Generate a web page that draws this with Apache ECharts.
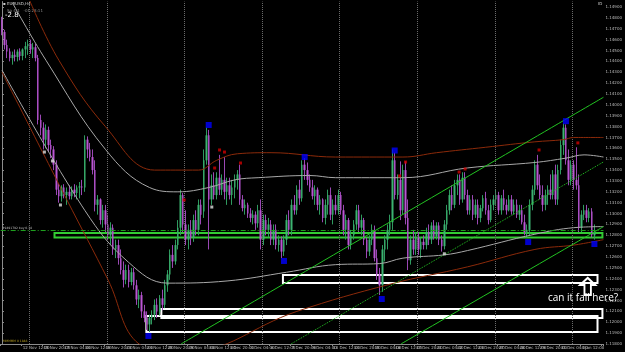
<!DOCTYPE html>
<html><head><meta charset="utf-8">
<script src="https://cdn.jsdelivr.net/npm/echarts@6/dist/echarts.min.js"></script>
<style>html,body{margin:0;padding:0;background:#000}#c{width:625px;height:352px}</style>
</head><body><div id="c"></div>
<script>
// ---- time axis (H4 bars) ----
const days = ['11 Nov','12 Nov','15 Nov','16 Nov','17 Nov','18 Nov','19 Nov','22 Nov','23 Nov','24 Nov','25 Nov','26 Nov','29 Nov','30 Nov','1 Dec','2 Dec','3 Dec','6 Dec','7 Dec','8 Dec','9 Dec','10 Dec','13 Dec','14 Dec','15 Dec','16 Dec','17 Dec','20 Dec','21 Dec','22 Dec','23 Dec','24 Dec','27 Dec','28 Dec','29 Dec','30 Dec','31 Dec','3 Jan','4 Jan'];
const hours = ['00:00','04:00','08:00','12:00','16:00','20:00'];
const firstLabel = '11 Nov 2021';
const barCount = 230, shiftBars = 3;

// ---- EURUSD H4 candles: [open, close, low, high] ----
const ohlc = [
[1.1478,1.1467,1.1464,1.1481],[1.1467,1.1455,1.1451,1.1469],[1.1455,1.1449,1.1443,1.1460],[1.1449,1.1443,1.1440,1.1452],[1.1443,1.1446,1.1437,1.1449],
[1.1446,1.1444,1.1440,1.1451],[1.1444,1.1449,1.1440,1.1451],[1.1449,1.1445,1.1441,1.1452],[1.1445,1.1451,1.1441,1.1452],[1.1451,1.1454,1.1443,1.1458],
[1.1454,1.1456,1.1446,1.1460],[1.1456,1.1451,1.1447,1.1460],[1.1451,1.1453,1.1443,1.1457],[1.1453,1.1443,1.1440,1.1456],[1.1443,1.1386,1.1382,1.1446],
[1.1386,1.1379,1.1372,1.1391],[1.1379,1.1368,1.1359,1.1384],[1.1368,1.1377,1.1360,1.1382],[1.1377,1.1363,1.1357,1.1380],[1.1363,1.1359,1.1351,1.1368],
[1.1359,1.1345,1.1340,1.1362],[1.1345,1.1322,1.1317,1.1349],[1.1322,1.1316,1.1310,1.1328],[1.1316,1.1324,1.1311,1.1326],[1.1324,1.1317,1.1314,1.1327],
[1.1317,1.1320,1.1308,1.1324],[1.1320,1.1316,1.1313,1.1326],[1.1316,1.1322,1.1313,1.1325],[1.1322,1.1319,1.1315,1.1327],[1.1319,1.1324,1.1313,1.1326],
[1.1324,1.1325,1.1314,1.1329],[1.1325,1.1324,1.1317,1.1331],[1.1324,1.1368,1.1320,1.1372],[1.1368,1.1359,1.1351,1.1371],[1.1359,1.1352,1.1348,1.1365],
[1.1352,1.1340,1.1336,1.1359],[1.1340,1.1308,1.1302,1.1349],[1.1308,1.1313,1.1299,1.1317],[1.1313,1.1294,1.1290,1.1314],[1.1294,1.1303,1.1287,1.1308],
[1.1303,1.1290,1.1283,1.1308],[1.1290,1.1280,1.1276,1.1299],[1.1280,1.1287,1.1271,1.1292],[1.1287,1.1267,1.1262,1.1290],[1.1267,1.1271,1.1259,1.1276],
[1.1271,1.1259,1.1253,1.1276],[1.1259,1.1248,1.1244,1.1267],[1.1248,1.1239,1.1232,1.1256],[1.1239,1.1248,1.1235,1.1253],[1.1248,1.1237,1.1232,1.1253],
[1.1237,1.1246,1.1234,1.1250],[1.1246,1.1234,1.1230,1.1250],[1.1234,1.1221,1.1216,1.1239],[1.1221,1.1225,1.1213,1.1230],[1.1225,1.1210,1.1204,1.1228],
[1.1210,1.1204,1.1200,1.1216],[1.1204,1.1198,1.1193,1.1210],[1.1198,1.1204,1.1191,1.1207],[1.1204,1.1207,1.1198,1.1211],[1.1207,1.1216,1.1202,1.1221],
[1.1216,1.1210,1.1204,1.1222],[1.1210,1.1222,1.1206,1.1225],[1.1222,1.1216,1.1211,1.1230],[1.1216,1.1234,1.1213,1.1239],[1.1234,1.1244,1.1228,1.1248],
[1.1244,1.1262,1.1239,1.1267],[1.1262,1.1256,1.1250,1.1271],[1.1256,1.1271,1.1253,1.1276],[1.1271,1.1287,1.1267,1.1294],[1.1287,1.1317,1.1280,1.1322],
[1.1317,1.1290,1.1283,1.1319],[1.1290,1.1276,1.1271,1.1303],[1.1276,1.1285,1.1267,1.1290],[1.1285,1.1278,1.1271,1.1294],[1.1278,1.1294,1.1274,1.1299],
[1.1294,1.1285,1.1280,1.1303],[1.1285,1.1308,1.1280,1.1313],[1.1308,1.1299,1.1290,1.1313],[1.1302,1.1349,1.1296,1.1359],[1.1349,1.1372,1.1345,1.1379],
[1.1372,1.1313,1.1267,1.1377],[1.1313,1.1326,1.1308,1.1336],[1.1326,1.1317,1.1313,1.1338],[1.1317,1.1333,1.1313,1.1338],[1.1333,1.1322,1.1317,1.1354],
[1.1322,1.1331,1.1317,1.1336],[1.1331,1.1320,1.1313,1.1352],[1.1320,1.1326,1.1308,1.1333],[1.1326,1.1317,1.1313,1.1333],[1.1317,1.1324,1.1308,1.1331],
[1.1324,1.1331,1.1314,1.1336],[1.1331,1.1336,1.1322,1.1340],[1.1336,1.1313,1.1308,1.1345],[1.1313,1.1305,1.1302,1.1317],[1.1305,1.1308,1.1299,1.1313],
[1.1308,1.1300,1.1296,1.1310],[1.1300,1.1296,1.1292,1.1305],[1.1296,1.1299,1.1290,1.1303],[1.1299,1.1291,1.1285,1.1302],[1.1291,1.1303,1.1287,1.1308],
[1.1303,1.1276,1.1267,1.1313],[1.1276,1.1294,1.1271,1.1299],[1.1294,1.1285,1.1280,1.1299],[1.1285,1.1290,1.1278,1.1296],[1.1290,1.1276,1.1271,1.1294],
[1.1276,1.1285,1.1271,1.1290],[1.1285,1.1271,1.1267,1.1290],[1.1271,1.1276,1.1265,1.1280],[1.1276,1.1265,1.1259,1.1279],[1.1265,1.1276,1.1261,1.1280],
[1.1276,1.1294,1.1271,1.1299],[1.1294,1.1285,1.1280,1.1303],[1.1285,1.1308,1.1280,1.1313],[1.1308,1.1303,1.1299,1.1317],[1.1303,1.1322,1.1299,1.1326],
[1.1322,1.1314,1.1308,1.1331],[1.1314,1.1345,1.1311,1.1349],[1.1345,1.1340,1.1331,1.1351],[1.1340,1.1331,1.1326,1.1347],[1.1331,1.1324,1.1320,1.1336],
[1.1324,1.1316,1.1313,1.1331],[1.1316,1.1322,1.1308,1.1326],[1.1322,1.1308,1.1303,1.1324],[1.1308,1.1313,1.1299,1.1317],[1.1313,1.1296,1.1292,1.1314],
[1.1296,1.1308,1.1290,1.1313],[1.1308,1.1317,1.1299,1.1322],[1.1317,1.1299,1.1294,1.1324],[1.1299,1.1308,1.1290,1.1313],[1.1308,1.1303,1.1299,1.1317],
[1.1303,1.1317,1.1299,1.1322],[1.1317,1.1303,1.1299,1.1320],[1.1303,1.1285,1.1280,1.1308],[1.1285,1.1294,1.1276,1.1299],[1.1294,1.1271,1.1267,1.1296],
[1.1271,1.1280,1.1267,1.1285],[1.1280,1.1290,1.1276,1.1294],[1.1290,1.1303,1.1285,1.1308],[1.1303,1.1287,1.1283,1.1308],[1.1287,1.1294,1.1280,1.1299],
[1.1294,1.1276,1.1271,1.1296],[1.1276,1.1265,1.1259,1.1278],[1.1265,1.1276,1.1261,1.1280],[1.1276,1.1285,1.1271,1.1290],[1.1285,1.1259,1.1256,1.1289],
[1.1259,1.1244,1.1239,1.1267],[1.1244,1.1234,1.1225,1.1250],[1.1234,1.1267,1.1228,1.1271],[1.1267,1.1276,1.1256,1.1280],[1.1276,1.1285,1.1267,1.1290],
[1.1285,1.1292,1.1280,1.1299],[1.1292,1.1349,1.1285,1.1359],[1.1349,1.1317,1.1313,1.1356],[1.1317,1.1331,1.1313,1.1336],[1.1331,1.1303,1.1294,1.1348],
[1.1303,1.1340,1.1299,1.1345],[1.1340,1.1296,1.1290,1.1348],[1.1296,1.1257,1.1248,1.1313],[1.1257,1.1276,1.1253,1.1280],[1.1276,1.1267,1.1262,1.1285],
[1.1267,1.1278,1.1262,1.1283],[1.1278,1.1267,1.1262,1.1283],[1.1267,1.1274,1.1259,1.1278],[1.1274,1.1271,1.1267,1.1280],[1.1271,1.1283,1.1267,1.1287],
[1.1283,1.1276,1.1271,1.1290],[1.1276,1.1289,1.1272,1.1292],[1.1289,1.1279,1.1276,1.1294],[1.1279,1.1289,1.1276,1.1292],[1.1289,1.1276,1.1271,1.1292],
[1.1276,1.1270,1.1265,1.1280],[1.1270,1.1290,1.1267,1.1294],[1.1290,1.1303,1.1285,1.1308],[1.1303,1.1317,1.1299,1.1322],[1.1317,1.1308,1.1303,1.1326],
[1.1308,1.1326,1.1305,1.1331],[1.1326,1.1331,1.1317,1.1336],[1.1331,1.1313,1.1308,1.1336],[1.1313,1.1333,1.1310,1.1338],[1.1333,1.1317,1.1313,1.1338],
[1.1317,1.1303,1.1299,1.1322],[1.1303,1.1313,1.1299,1.1317],[1.1313,1.1299,1.1294,1.1317],[1.1299,1.1308,1.1296,1.1313],[1.1308,1.1296,1.1290,1.1313],
[1.1296,1.1305,1.1292,1.1308],[1.1305,1.1314,1.1302,1.1317],[1.1314,1.1303,1.1299,1.1320],[1.1303,1.1294,1.1290,1.1308],[1.1294,1.1308,1.1292,1.1313],
[1.1308,1.1313,1.1303,1.1317],[1.1313,1.1317,1.1308,1.1322],[1.1317,1.1303,1.1299,1.1320],[1.1303,1.1314,1.1299,1.1317],[1.1314,1.1308,1.1303,1.1322],
[1.1308,1.1303,1.1299,1.1313],[1.1303,1.1313,1.1302,1.1317],[1.1313,1.1302,1.1299,1.1317],[1.1302,1.1308,1.1299,1.1313],[1.1308,1.1299,1.1296,1.1313],
[1.1299,1.1303,1.1294,1.1308],[1.1303,1.1292,1.1290,1.1308],[1.1292,1.1283,1.1280,1.1299],[1.1283,1.1285,1.1278,1.1290],[1.1285,1.1308,1.1280,1.1313],
[1.1308,1.1322,1.1303,1.1326],[1.1322,1.1345,1.1317,1.1349],[1.1345,1.1326,1.1322,1.1354],[1.1326,1.1317,1.1313,1.1336],[1.1317,1.1308,1.1302,1.1326],
[1.1308,1.1317,1.1303,1.1322],[1.1317,1.1322,1.1308,1.1326],[1.1322,1.1317,1.1313,1.1336],[1.1317,1.1336,1.1313,1.1340],[1.1336,1.1313,1.1308,1.1345],
[1.1313,1.1340,1.1308,1.1345],[1.1340,1.1363,1.1336,1.1368],[1.1363,1.1379,1.1354,1.1383],[1.1379,1.1349,1.1345,1.1382],[1.1349,1.1331,1.1326,1.1359],
[1.1331,1.1345,1.1326,1.1349],[1.1345,1.1331,1.1322,1.1349],[1.1331,1.1326,1.1322,1.1361],[1.1326,1.1287,1.1283,1.1336],[1.1287,1.1299,1.1283,1.1303],
[1.1299,1.1303,1.1294,1.1308],[1.1303,1.1296,1.1292,1.1308],[1.1296,1.1302,1.1292,1.1305],[1.1302,1.1280,1.1278,1.1305],[1.1280,1.1282,1.1276,1.1290]
];
const lastPrice = 1.1282;

// ---- indicator curves: [bar index, price] ----
const grayUpper = [[4,1.1494],[17,1.1441],[40,1.1359],[57,1.1324],[68,1.1320],[80,1.1324],[90,1.1331],[99,1.1333],[119,1.1335],[129,1.1333],[155,1.1333],[180,1.1342],[206,1.1347],[218,1.1351],[225,1.1354],[232.5,1.1352]];
const grayLower = [[0,1.1432],[32,1.1303],[49,1.1255],[64,1.1236],[87,1.1238],[110,1.1246],[129,1.1253],[146,1.1254],[155,1.1259],[171,1.1262],[180,1.1266],[206,1.1281],[221,1.1287],[232.5,1.1288]];
const redUpper = [[10.7,1.1496],[22,1.1441],[40,1.1380],[59,1.1340],[76,1.1340],[83,1.1349],[91,1.1355],[104,1.1356],[129,1.1352],[155,1.1352],[168,1.1356],[187,1.1361],[206,1.1366],[217,1.1368],[221,1.1370],[232.5,1.1370]];
const redLower = [[0,1.1430],[25,1.1313],[41,1.1239],[53,1.1180],[70,1.1172],[114,1.1210],[150,1.1235],[180,1.1251],[206,1.1267],[221,1.1271],[232.5,1.1276]];
// ---- trend channel ----
const chanUpper = [[69.2,1.1180],[232.5,1.1407]];
const chanMid = [[111.7,1.1180],[232.5,1.13475]];
const chanLower = [[154.2,1.1180],[232.5,1.1288]];
// ---- zones / order ----
const greenZone = [20.3,232.1,1.12821,1.12780];
const whiteZones = [[108.6,230.2,1.12435,1.12361],[61.6,232.1,1.12122,1.12039],[55.8,230.2,1.12058,1.11910]];
const orderLine = [[-0.5,1.12844],[232.5,1.12844]];
const orderText = '#9491792 buy 0.38';
const weekBreaks = [10.5,40.5,70.5,100.5,130.5,160.5,190.5,220.5];
// ---- markers ----
const bluePts = [[79.9,1.13815],[117,1.1352],[151.8,1.1358],[218,1.1385],[56.6,1.11874],[109,1.12564],[146.8,1.12214],[203.4,1.12738],[229,1.1272]];
const redPts = [[70.4,1.13125],[82.2,1.13419],[84.1,1.13585],[86,1.13566],[92.2,1.13465],[153.7,1.13346],[156,1.13474],[176.7,1.13382],[179,1.1341],[207.6,1.13585],[222.6,1.1365]];
const whitePts = [[16.4,1.13566],[19.5,1.13484],[22.6,1.13079],[81.1,1.1306],[171,1.1263]];
const arrowAt = [226.4,1.1233];
const note = 'can it fall here?';

const cats = [];
for (let d = 0; d < days.length && cats.length < barCount; d++) {
  for (let h = (d === 0 ? 1 : 0); h < hours.length && cats.length < barCount; h++) {
    cats.push(cats.length === 0 ? firstLabel : days[d] + ' ' + hours[h]);
  }
}
for (let k = 0; k < shiftBars; k++) cats.push('');
const bodies = ohlc.map(r => [r[0], r[1], Math.min(r[0], r[1]), Math.max(r[0], r[1])]);

const chart = echarts.init(document.getElementById('c'));
const lineS = (data, color, type, z) => ({type:'line', xAxisIndex:1, data, smooth:0.4, showSymbol:false, silent:true, clip:true,
  lineStyle:{color, width:1, type:type||'solid'}, z:z||5});
const green = '#22c322';
chart.setOption({
  backgroundColor:'#000',
  animation:false,
  grid:{left:0.7, right:15, top:1.6, bottom:8},
  xAxis:[
    {type:'category', data:cats, boundaryGap:true,
     axisLine:{lineStyle:{color:'#8c8c8c'}}, axisTick:{show:true, interval:7, length:2, lineStyle:{color:'#8c8c8c'}},
     axisLabel:{interval:7, fontSize:4, color:'#bdbdbd', align:'left', margin:2, fontFamily:'DejaVu Sans'}, splitLine:{show:false}},
    {type:'value', min:-0.5, max:232.5, show:false, splitLine:{show:false}}
  ],
  yAxis:{type:'value', position:'right', min:1.118, max:1.1495, interval:0.001,
    axisLine:{show:true, lineStyle:{color:'#8c8c8c'}}, axisTick:{show:true, length:2, lineStyle:{color:'#8c8c8c'}},
    axisLabel:{fontSize:4, color:'#bdbdbd', margin:2, showMaxLabel:false, fontFamily:'DejaVu Sans', formatter:v=>v.toFixed(5)},
    splitLine:{show:false}},
  series:[
    {type:'line', xAxisIndex:1, data:[], markLine:{silent:true, symbol:'none', label:{show:false},
      lineStyle:{color:'#6a6a6a', type:'dotted', width:1}, data:weekBreaks.map(v=>({xAxis:v}))}},
    {type:'candlestick', xAxisIndex:0, data:ohlc, barWidth:1, z:3,
     itemStyle:{color:'#2f9a5f', color0:'#9a48b4', borderColor:'#2f9a5f', borderColor0:'#9a48b4', borderWidth:1}},
    {type:'candlestick', xAxisIndex:0, data:bodies, barWidth:2, z:4,
     itemStyle:{color:'#3cb371', color0:'#ba55d3', borderColor:'#3cb371', borderColor0:'#ba55d3', borderWidth:0}},
    lineS(grayUpper,'#a8a8a8'), lineS(grayLower,'#a8a8a8'),
    lineS(redUpper,'#8b2a0a'), lineS(redLower,'#8b2a0a'),
    lineS(chanUpper,green), lineS(chanLower,green), lineS(chanMid,green,'dotted'),
    {type:'line', xAxisIndex:1, data:orderLine, showSymbol:false, silent:true, smooth:false, z:6,
     lineStyle:{color:'#1fa01f', type:[5,2,1,2], width:1}},
    {type:'line', xAxisIndex:1, data:[], z:6,
     markArea:{silent:true, itemStyle:{color:'rgba(0,0,0,0)', borderColor:'#33cc33', borderWidth:2},
       data:[[{coord:[greenZone[0],greenZone[2]]},{coord:[greenZone[1],greenZone[3]]}]]}},
    {type:'line', xAxisIndex:1, data:[], z:6,
     markArea:{silent:true, itemStyle:{color:'rgba(0,0,0,0)', borderColor:'#ffffff', borderWidth:2},
       data:whiteZones.map(z=>[{coord:[z[0],z[2]]},{coord:[z[1],z[3]]}])}},
    {type:'line', xAxisIndex:1, data:[], z:9,
     markLine:{silent:true, symbol:'none', lineStyle:{opacity:0},
       label:{show:true, position:'end', distance:1, formatter:()=>lastPrice.toFixed(5), fontSize:4, color:'#000', backgroundColor:'#d8d8d8', padding:[1,1]},
       data:[{yAxis:lastPrice}]}},
    {type:'scatter', xAxisIndex:1, data:bluePts, symbol:'rect', symbolSize:6, itemStyle:{color:'#0000ff'}, z:7},
    {type:'scatter', xAxisIndex:1, data:redPts, symbol:'rect', symbolSize:3, itemStyle:{color:'#d00000'}, z:7},
    {type:'scatter', xAxisIndex:1, data:whitePts, symbol:'rect', symbolSize:3, itemStyle:{color:'#e0e0e0'}, z:7},
    {type:'scatter', xAxisIndex:1, data:[], z:8,
     markPoint:{silent:true, data:[{coord:arrowAt, symbol:'path://M7,0 L14,7 L10,7 L10,17 L4,17 L4,7 L0,7 Z', symbolSize:[15,17],
       itemStyle:{color:'rgba(0,0,0,0)', borderColor:'#fff', borderWidth:2}, label:{show:false}}]}}
  ],
  graphic:[
    {type:'text', left:3, top:2, style:{text:'▪ EURUSD,H4', fill:'#cfcfcf', font:'4px DejaVu Sans'}},
    {type:'text', left:7, top:9, style:{text:'Sp 4.1   -01:28:11', fill:'#8a8a8a', font:'4px DejaVu Sans'}},
    {type:'text', left:5, top:12, style:{text:'-2.8', fill:'#ffffff', font:'7px DejaVu Sans'}},
    {type:'text', left:598, top:2, style:{text:'ID', fill:'#cfcfcf', font:'4px DejaVu Sans'}},
    {type:'text', left:2, top:227, style:{text:orderText, fill:'#bdbdbd', font:'3px DejaVu Sans'}},
    {type:'text', left:3, top:340, style:{text:'MMMMM 0 1848', fill:'#b8a020', font:'3px DejaVu Sans'}},
    {type:'text', left:548, top:293, style:{text:note, fill:'#ffffff', font:'10px "Open Sans"'}}
  ]
});
</script></body></html>
